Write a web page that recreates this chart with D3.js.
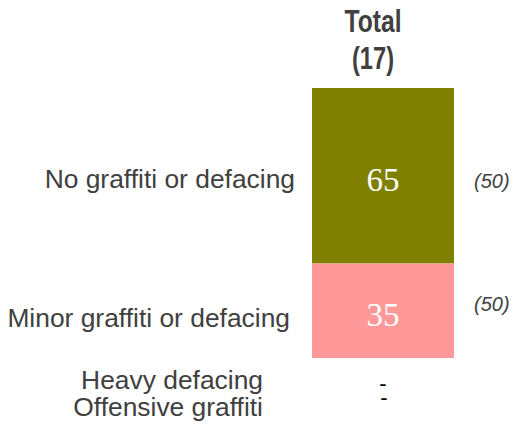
<!DOCTYPE html>
<html>
<head>
<meta charset="utf-8">
<script src="https://cdn.jsdelivr.net/npm/d3@7"></script>
<style>
  html, body { margin: 0; padding: 0; background: #fff; }
  svg { display: block; }
</style>
</head>
<body>
<svg id="chart" width="514" height="426"></svg>
<script>
// Share of sites by graffiti / defacing level (one stacked column)
const categories = ["No graffiti or defacing", "Minor graffiti or defacing", "Heavy defacing\nOffensive graffiti"];
const values = [65, 35, 0];
const valueLabels = ["65", "35", "-"];
const baseCounts = ["(50)", "(50)", ""];
const columnTitle = ["Total", "(17)"];
const colors = ["#808000", "#FF9999", "#C00000"];

const svg = d3.select("#chart");
const textColor = "#404040";
const sans = "'Liberation Sans', Arial, sans-serif";

// Vertical scale from 0–100% onto the column height
const y = d3.scaleLinear().domain([0, 100]).range([88, 358]);
const x = d3.scaleBand().domain(["Total"]).range([312, 454]).padding(0);
const cx = x("Total") + x.bandwidth() / 2;

// cumulative stack
let acc = 0;
const segs = values.map((v, i) => {
  const s = { i, v, y0: acc, y1: acc + v };
  acc += v;
  return s;
});

svg.selectAll("rect.seg")
  .data(segs.filter(d => d.v > 0))
  .join("rect")
  .attr("class", "seg")
  .attr("x", x("Total"))
  .attr("width", x.bandwidth())
  .attr("y", d => y(d.y0))
  .attr("height", d => y(d.y1) - y(d.y0))
  .attr("fill", d => colors[d.i]);

// values inside the segments
svg.selectAll("text.val")
  .data(segs.filter(d => d.v > 0))
  .join("text")
  .attr("class", "val")
  .attr("x", cx)
  .attr("y", d => (y(d.y0) + y(d.y1)) / 2 + 15)
  .attr("text-anchor", "middle")
  .attr("font-family", "'Liberation Serif', 'Times New Roman', serif")
  .attr("font-size", 33)
  .attr("fill", "#fff")
  .text(d => valueLabels[d.i]);

// zero segment shown as dashes below the column
[391, 405].forEach((by, k) => {
  svg.append("text")
    .attr("x", cx + k)
    .attr("y", by)
    .attr("text-anchor", "middle")
    .attr("font-family", sans)
    .attr("font-size", 22)
    .attr("fill", "#000")
    .text(valueLabels[2]);
});

// column title (condensed bold)
const titleWidths = [57, 42];
svg.selectAll("text.title")
  .data(columnTitle)
  .join("text")
  .attr("class", "title")
  .attr("x", cx - 10)
  .attr("y", (d, i) => 32 + i * 37)
  .attr("text-anchor", "middle")
  .attr("font-family", sans)
  .attr("font-weight", "bold")
  .attr("font-size", 32)
  .attr("textLength", (d, i) => titleWidths[i])
  .attr("lengthAdjust", "spacingAndGlyphs")
  .attr("fill", textColor)
  .text(d => d);

// category labels on the left
const catPos = [
  { x: 295, y: [188] },
  { x: 290, y: [327] },
  { x: 263, y: [389, 416] }
];
categories.forEach((c, i) => {
  const t = svg.append("text")
    .attr("text-anchor", "end")
    .attr("font-family", sans)
    .attr("font-size", 26.4)
    .attr("fill", textColor);
  c.split("\n").forEach((ln, j) => {
    t.append("tspan")
      .attr("x", catPos[i].x)
      .attr("y", catPos[i].y[j])
      .text(ln);
  });
});

// base counts on the right
const basePos = [188, 311];
baseCounts.forEach((b, i) => {
  if (!b) return;
  svg.append("text")
    .attr("x", 474)
    .attr("y", basePos[i])
    .attr("font-family", sans)
    .attr("font-style", "italic")
    .attr("font-size", 20)
    .attr("fill", textColor)
    .text(b);
});
</script>
</body>
</html>
